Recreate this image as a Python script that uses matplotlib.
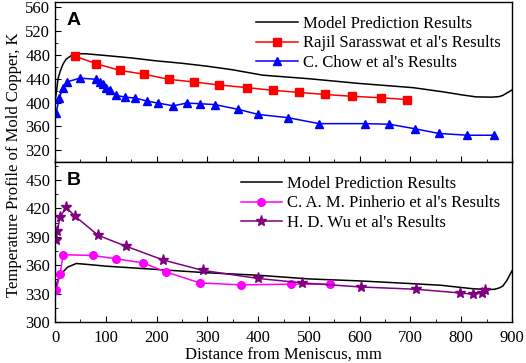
import matplotlib
matplotlib.use("Agg")
import matplotlib.pyplot as plt
from matplotlib.ticker import MultipleLocator

plt.rcParams['font.family'] = ['Liberation Serif', 'DejaVu Serif']
plt.rcParams['mathtext.fontset'] = 'stix'

# ---- Panel A data ----
model_a_x = [0, 3, 6, 10, 16, 22, 33, 45, 60, 100, 150, 200, 250, 300, 350, 409,
             500, 600, 705, 764, 800, 829, 860, 875, 882, 890, 900]
model_a_y = [400, 420, 440, 452, 465, 473, 479.5, 482, 482, 479, 475, 470, 466, 461, 455, 446,
             440, 432, 425, 418, 413, 409.5, 409, 410, 412, 416, 421]

rajil_x = [39, 80, 128, 176, 224, 274, 323, 379, 429, 480, 532, 585, 642, 693]
rajil_y = [478, 465.5, 454, 447.5, 439, 434.5, 429.5, 425, 420.5, 417, 413.5, 410.5, 408, 405]

chow_x = [2, 8.5, 16, 23, 49, 81, 89, 95, 100, 108, 121, 138, 158, 181, 203,
          233, 259, 285, 315, 361, 400, 459, 520, 610, 658, 708, 756, 812, 864]
chow_y = [382, 408, 425, 434.5, 441, 439, 435, 430.5, 425, 420.5, 412, 409, 407.5, 402.5, 399,
          394.5, 399, 398, 396.5, 388.5, 380, 374.5, 364.5, 364.5, 363.5, 356, 348, 345, 345]

# ---- Panel B data ----
model_b_x = [0, 5, 10, 16, 25, 42, 60, 100, 200, 300, 400, 500, 600, 700, 760,
             820, 850, 865, 875, 882, 890, 900]
model_b_y = [333.5, 343, 349, 353, 358, 361.8, 361, 359, 355.5, 352, 349.4, 345.5, 343.4, 340.6, 338.8,
             335.3, 334.3, 334.5, 336, 338, 344, 354]

pinh_x = [2, 10, 16, 75, 120, 173, 218, 285, 367, 464, 541]
pinh_y = [333.5, 350.5, 371, 370.3, 366.7, 362.5, 353, 341.3, 339.2, 340, 340]

wu_x = [2, 4.5, 10, 22, 39, 85, 140, 213, 291, 400, 487, 602, 711, 797, 823, 841, 846]
wu_y = [387, 396, 411, 421, 412, 391.5, 380, 365.5, 354.5, 346, 341.3, 337, 334.6, 330.7, 329.3, 330.7, 334.3]

fig = plt.figure(figsize=(5.26, 3.63), dpi=100)
ax_a = fig.add_axes([55 / 526, 1 - 162 / 363, 457 / 526, 160 / 363])
ax_b = fig.add_axes([55 / 526, 1 - 322 / 363, 457 / 526, 160 / 363], sharex=ax_a)

lw = 1.1
ax_a.plot(model_a_x, model_a_y, color='black', lw=lw, label='Model Prediction Results')
ax_a.plot(rajil_x, rajil_y, color='red', lw=lw, marker='s', ms=5.5, label="Rajil Sarasswat et al's Results")
ax_a.plot(chow_x, chow_y, color='blue', lw=lw, marker='^', ms=6, label="C. Chow et al's Results")

ax_b.plot(model_b_x, model_b_y, color='black', lw=lw, label='Model Prediction Results')
ax_b.plot(pinh_x, pinh_y, color='#FF00FF', lw=lw, marker='o', ms=5.5, label="C. A. M. Pinherio et al's Results")
ax_b.plot(wu_x, wu_y, color='#800080', lw=lw, marker='*', ms=8, label="H. D. Wu et al's Results")

ax_a.set_ylim(300, 569)
ax_b.set_ylim(300, 469)
ax_a.set_xlim(0, 900)

ax_a.yaxis.set_major_locator(MultipleLocator(40))
ax_a.yaxis.set_minor_locator(MultipleLocator(20))
ax_b.yaxis.set_major_locator(MultipleLocator(30))
ax_b.yaxis.set_minor_locator(MultipleLocator(15))
ax_b.xaxis.set_major_locator(MultipleLocator(100))
ax_b.xaxis.set_minor_locator(MultipleLocator(50))

for ax in (ax_a, ax_b):
    ax.tick_params(which='both', direction='in', top=False, right=False, labelsize=12)
    ax.tick_params(which='major', length=4)
    ax.tick_params(which='minor', length=2.5)
    for s in ax.spines.values():
        s.set_linewidth(1.0)

ax_a.set_yticks([320, 360, 400, 440, 480, 520, 560])
ax_a.tick_params(axis='x', labelbottom=False)
ax_b.set_yticks([300, 330, 360, 390, 420, 450])
ax_b.tick_params(axis='x', pad=6)

ax_a.legend(loc='upper right', bbox_to_anchor=(1.0, 0.985), frameon=False, fontsize=12,
            handlelength=2.5, handletextpad=0.3, labelspacing=0.2, borderaxespad=0.3)
ax_b.legend(loc='upper right', bbox_to_anchor=(1.0, 0.985), frameon=False, fontsize=12,
            handlelength=2.5, handletextpad=0.3, labelspacing=0.2, borderaxespad=0.3)

ax_a.text(0.025, 0.94, 'A', transform=ax_a.transAxes, fontsize=14, fontweight='bold',
          family='Liberation Sans', va='top', ha='left')
ax_b.text(0.025, 0.94, 'B', transform=ax_b.transAxes, fontsize=14, fontweight='bold',
          family='Liberation Sans', va='top', ha='left')

ax_b.set_xlabel('Distance from Meniscus, mm', fontsize=12, labelpad=1)
fig.text(14 / 526, 1 - 165 / 363, 'Temperature Profile of Mold Copper, K', rotation=90,
         fontsize=12, ha='center', va='center')

fig.savefig('out.png', dpi=100)
